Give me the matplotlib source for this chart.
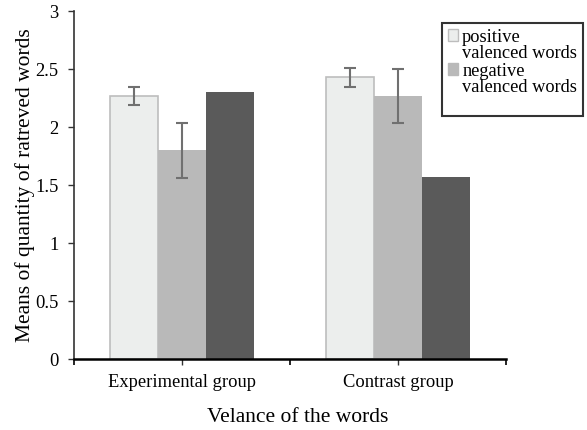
import numpy as np
import matplotlib.pyplot as plt
from matplotlib.patches import Patch

groups = ['Experimental group', 'Contrast group']
positive = [2.27, 2.43]
positive_err = [0.08, 0.08]
negative = [1.80, 2.27]
negative_err = [0.235, 0.235]
third = [2.30, 1.57]

plt.rcParams['font.family'] = ['Liberation Serif', 'DejaVu Serif']

fig = plt.figure(figsize=(5.87, 4.30), dpi=100)
ax = fig.add_axes([0.126, 0.165, 0.736, 0.809])

x = np.arange(len(groups))
w = 0.222
errkw = dict(ecolor='#707070', elinewidth=1.5, capsize=4.5, capthick=1.5)
ax.bar(x - w, positive, w, yerr=positive_err, color='#eceeed', edgecolor='#bdbdbd',
       linewidth=1.2, error_kw=errkw)
ax.bar(x, negative, w, yerr=negative_err, color='#b9b9b9', error_kw=errkw)
ax.bar(x + w, third, w, color='#5a5a5a')

ax.set_xlim(-0.5, 1.5)
ax.set_ylim(0, 3)
ax.set_yticks(np.arange(0, 3.01, 0.5))
ax.set_yticklabels(['0', '0.5', '1', '1.5', '2', '2.5', '3'])
ax.set_xticks(x)
ax.set_xticklabels(groups)
ax.set_xticks([-0.5, 0.5, 1.5], minor=True)
ax.tick_params(axis='both', labelsize=13.3, direction='out', length=4, width=1,
               color='#333333')
ax.tick_params(axis='y', pad=7)
ax.tick_params(axis='x', pad=6.5)
ax.tick_params(axis='x', which='minor', length=4, width=1.2)
ax.spines['top'].set_visible(False)
ax.spines['right'].set_visible(False)
ax.spines['left'].set_linewidth(1.2)
ax.spines['left'].set_color('#333333')
ax.spines['bottom'].set_linewidth(1.8)
ax.set_ylabel('Means of quantity of ratreved words', fontsize=15.5)
ax.set_xlabel('Velance of the words', fontsize=15.5)
ax.yaxis.set_label_coords(-0.09, 0.5)
ax.xaxis.set_label_coords(0.518, -0.14)

# one legend row per text line, so the swatch sits beside the first line
handles = [Patch(facecolor='#eceeed', edgecolor='#bdbdbd'), Patch(alpha=0),
           Patch(facecolor='#b9b9b9', edgecolor='#b9b9b9'), Patch(alpha=0),
           Patch(alpha=0)]
labels = ['positive', 'valenced words', 'negative', 'valenced words', ' ']
leg = fig.legend(handles, labels,
                 loc='upper left', bbox_to_anchor=(442 / 587, 1 - 23 / 430),
                 fontsize=13.2, frameon=True, fancybox=False, handlelength=0.55,
                 handleheight=0.55, handletextpad=0.25, borderpad=0.3,
                 labelspacing=0, borderaxespad=0)
leg.get_texts()[-1].set_fontsize(8)
leg.get_frame().set_edgecolor('black')
leg.get_frame().set_linewidth(1.5)

fig.savefig('out.png', dpi=100)
